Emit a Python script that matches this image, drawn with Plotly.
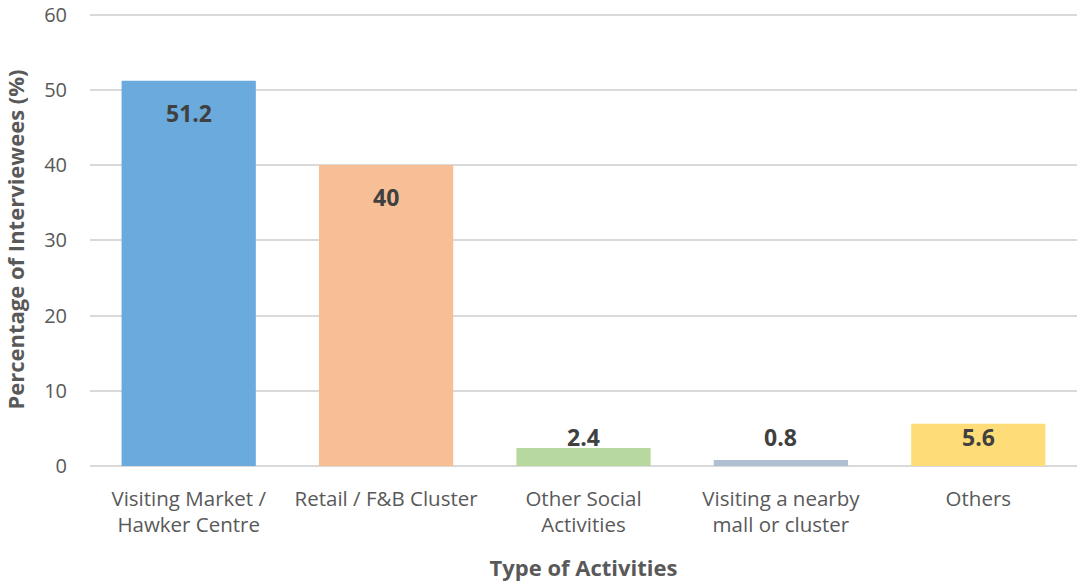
import plotly.graph_objects as go

categories = ["Visiting Market /<br>Hawker Centre", "Retail / F&B Cluster",
              "Other Social<br>Activities", "Visiting a nearby<br>mall or cluster", "Others"]
values = [51.2, 40, 2.4, 0.8, 5.6]
labels = ["51.2", "40", "2.4", "0.8", "5.6"]
colors = ["#6AAADC", "#F7BF96", "#B7D99F", "#B0BFD1", "#FEDD78"]
inside = [True, True, False, False, False]

FONT = "Open Sans"

fig = go.Figure(go.Bar(x=categories, y=values, marker=dict(color=colors, line=dict(width=0)),
                       hoverinfo="skip"))

for c, v, t, ins in zip(categories, values, labels, inside):
    if ins:
        fig.add_annotation(x=c, y=v, text=f"<b>{t}</b>", showarrow=False, yanchor="middle",
                           yshift=-32, font=dict(family=FONT, size=23, color="#404040"))
    else:
        fig.add_annotation(x=c, y=0, text=f"<b>{t}</b>", showarrow=False, yanchor="middle",
                           yshift=29, font=dict(family=FONT, size=23, color="#404040"))

fig.update_layout(
    width=1077, height=584,
    margin=dict(l=90, r=0, t=13, b=118),
    paper_bgcolor="white", plot_bgcolor="white",
    bargap=0.32, showlegend=False,
    font=dict(family=FONT, size=20, color="#595959"),
    xaxis=dict(showgrid=False, showline=False, ticks="", ticklabelstandoff=18,
               tickfont=dict(family=FONT, size=20.5, color="#595959"),
               title=dict(text="<b>Type of Activities</b>", standoff=23,
                          font=dict(family=FONT, size=22, color="#595959"))),
    yaxis=dict(range=[0, 60.2], dtick=10, tick0=0, showgrid=True, gridcolor="#D9D9D9", gridwidth=1.5,
               zeroline=True, zerolinecolor="#D9D9D9", zerolinewidth=1.5,
               ticks="", ticklabelstandoff=22,
               tickfont=dict(family=FONT, size=20, color="#595959"),
               title=dict(text="<b>Percentage of Interviewees (%)</b>", standoff=14,
                          font=dict(family=FONT, size=22, color="#595959"))),
)

fig.write_html("out.html", config={"displayModeBar": False},
               post_script="document.body.style.margin='0';document.body.style.overflow='hidden';")
